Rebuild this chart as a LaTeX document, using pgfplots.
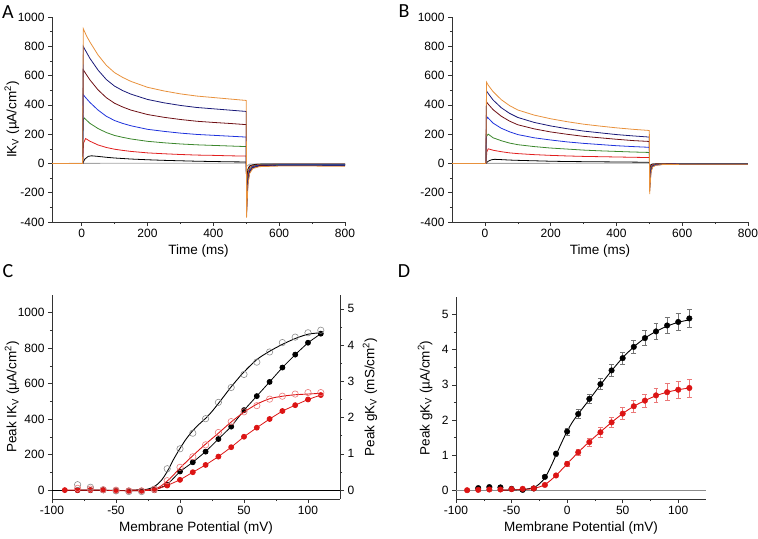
\documentclass[border=0pt]{standalone}
\usepackage{pgfplots}
\pgfplotsset{compat=1.18}
\usepackage{fontspec}
\setmainfont{Liberation Sans}
\newfontfamily\letterfont{Carlito}
\definecolor{cOr}{RGB}{232,145,60}
\definecolor{cNavy}{RGB}{25,25,120}
\definecolor{cBrown}{RGB}{110,15,20}
\definecolor{cBlue}{RGB}{30,50,220}
\definecolor{cGreen}{RGB}{60,135,45}
\definecolor{cRed}{RGB}{225,30,30}
\definecolor{cGray}{RGB}{165,165,165}
\definecolor{dRed}{RGB}{220,20,20}
\definecolor{pinkE}{RGB}{235,120,120}
\pgfplotsset{
 base/.style={
   scale only axis,
   anchor=south west,
   tick align=outside,
   axis line style={-, line width=0.6pt, draw=black!80},
   major tick length=4bp, minor tick length=2.2bp,
   every tick/.style={black!80, line width=0.5pt},
   tick label style={font=\fontsize{12bp}{13bp}\selectfont},
   label style={font=\fontsize{13.5bp}{15bp}\selectfont},
   /pgf/number format/assume math mode=true,
   /pgf/number format/1000 sep={},
 },
 tr/.style={line width=0.8pt, mark=none},
}
\begin{document}
\begin{tikzpicture}
\useasboundingbox (0,0) rectangle (758bp,539bp);
\node[font=\letterfont\fontsize{20bp}{20bp}\selectfont] at (8bp,527bp) {A};
\node[font=\letterfont\fontsize{20bp}{20bp}\selectfont] at (404bp,528bp) {B};
\node[font=\letterfont\fontsize{20bp}{20bp}\selectfont] at (8bp,268bp) {C};
\node[font=\letterfont\fontsize{20bp}{20bp}\selectfont] at (404bp,268bp) {D};

% ---------------- A
\begin{axis}[base, at={(52bp,317bp)}, width=293bp, height=205bp,
 axis x line*=bottom, axis y line*=left,
 xmin=-90, xmax=800, ymin=-400, ymax=1000,
 xtick={0,200,...,800}, ytick={-400,-200,...,1000},
 minor x tick num=1, minor y tick num=1,
 xlabel={Time (ms)}, ylabel={IK\textsubscript{V} (µA/cm\textsuperscript{2})},
 ylabel style={at={(axis description cs:-0.137,0.5)}, anchor=center}]
\addplot[tr, cGray] coordinates {(-90,0)(500,2)(501,-20)(510,-5)(540,-2)(800,-2)};
\addplot[tr, black] coordinates {(-90,0)(3,0)(10,30)(20,48)(30,52)(50,48)(75,42)(100,37)(150,30)(200,25)(250,21)(300,18)(350,15)(400,13)(450,11)(500,10)(501,-120)(505,-40)(510,-18)(520,-9)(540,-5)(600,-4)(700,-4)(800,-4)};
\addplot[tr, cRed] coordinates {(-90,0)(3,0)(6,140)(12,170)(25,152)(50,126)(75,109)(100,97)(125,89)(150,82)(200,72)(250,66)(300,61)(350,57)(400,55)(450,52)(500,50)(501,-200)(505,-65)(510,-28)(520,-14)(540,-8)(600,-6)(700,-6)(800,-6)};
\addplot[tr, cGreen] coordinates {(-90,0)(3,0)(5,300)(8,310)(25,274)(50,238)(75,211)(100,191)(125,178)(150,167)(200,151)(250,141)(300,133)(350,127)(400,123)(450,119)(500,115)(501,-260)(505,-90)(510,-38)(520,-18)(540,-10)(600,-8)(700,-8)(800,-8)};
\addplot[tr, cBlue] coordinates {(-90,0)(3,0)(5,470)(10,455)(25,417)(50,364)(75,322)(100,293)(125,273)(150,257)(200,233)(250,219)(300,207)(350,198)(400,192)(450,186)(500,180)(501,-300)(505,-110)(510,-48)(520,-22)(540,-12)(600,-10)(700,-10)(800,-10)};
\addplot[tr, cBrown] coordinates {(-90,0)(3,0)(5,640)(10,622)(25,571)(50,502)(75,449)(100,411)(125,385)(150,364)(200,334)(250,315)(300,300)(350,288)(400,280)(450,273)(500,265)(501,-320)(505,-125)(510,-55)(520,-27)(540,-15)(600,-12)(700,-12)(800,-13)};
\addplot[tr, cNavy] coordinates {(-90,0)(3,0)(5,800)(10,778)(25,718)(50,637)(75,573)(100,528)(125,497)(150,473)(200,437)(250,414)(300,396)(350,382)(400,373)(450,364)(500,355)(501,-340)(505,-135)(510,-62)(520,-30)(540,-18)(600,-14)(700,-14)(800,-15)};
\addplot[tr, cOr] coordinates {(-90,0)(3,0)(5,920)(10,895)(15,870)(25,830)(50,740)(75,670)(100,620)(125,587)(150,560)(200,520)(250,495)(300,475)(350,460)(400,450)(450,440)(500,430)(501,-370)(505,-150)(510,-70)(520,-35)(540,-22)(600,-18)(700,-18)(800,-20)};
\end{axis}

% ---------------- B
\begin{axis}[base, at={(452bp,317bp)}, width=296bp, height=205bp,
 axis x line*=bottom, axis y line*=left,
 xmin=-100, xmax=800, ymin=-400, ymax=1000,
 xtick={0,200,...,800}, ytick={-400,-200,...,1000},
 minor x tick num=1, minor y tick num=1,
 xlabel={Time (ms)}]
\addplot[tr, cGray] coordinates {(-100,0)(500,1)(501,-10)(510,-2)(800,-1)};
\addplot[tr, black] coordinates {(-100,0)(3,0)(10,15)(20,25)(30,28)(50,26)(75,23)(100,21)(150,18)(200,15)(250,13)(300,12)(350,11)(400,10)(450,9)(500,8)(501,-40)(505,-10)(510,-5)(520,-3)(540,-2)(800,-2)};
\addplot[tr, cRed] coordinates {(-100,0)(3,0)(6,80)(10,100)(25,90)(50,80)(75,72)(100,67)(150,60)(200,55)(250,51)(300,48)(350,46)(400,44)(450,42)(500,40)(501,-70)(505,-18)(510,-8)(520,-4)(540,-3)(600,-2)(700,-2)(800,-2)};
\addplot[tr, cGreen] coordinates {(-100,0)(3,0)(5,185)(10,200)(25,175)(50,155)(75,139)(100,128)(150,115)(200,105)(250,98)(300,91)(350,86)(400,82)(450,78)(500,75)(501,-105)(505,-28)(510,-12)(520,-6)(540,-4)(600,-3)(700,-3)(800,-3)};
\addplot[tr, cBlue] coordinates {(-100,0)(3,0)(5,300)(8,315)(25,275)(50,240)(75,216)(100,197)(150,175)(200,160)(250,147)(300,137)(350,129)(400,121)(450,115)(500,110)(501,-140)(505,-38)(510,-16)(520,-8)(540,-6)(600,-4)(700,-4)(800,-4)};
\addplot[tr, cBrown] coordinates {(-100,0)(3,0)(5,420)(10,405)(25,367)(50,322)(75,289)(100,264)(150,236)(200,215)(250,199)(300,185)(350,175)(400,165)(450,156)(500,150)(501,-165)(505,-46)(510,-20)(520,-10)(540,-7)(600,-5)(700,-5)(800,-5)};
\addplot[tr, cNavy] coordinates {(-100,0)(3,0)(5,495)(10,478)(25,433)(50,380)(75,342)(100,314)(150,280)(200,256)(250,237)(300,221)(350,209)(400,197)(450,188)(500,180)(501,-185)(505,-52)(510,-22)(520,-11)(540,-7)(600,-5)(700,-5)(800,-5)};
\addplot[tr, cOr] coordinates {(-100,0)(3,0)(5,555)(10,535)(25,490)(50,435)(75,395)(100,365)(150,330)(200,305)(250,285)(300,268)(350,255)(400,243)(450,233)(500,225)(501,-210)(505,-60)(510,-25)(520,-12)(540,-8)(600,-6)(700,-5)(800,-5)};
\end{axis}

% ---------------- C (left axis: current)
\begin{axis}[base, at={(52bp,40bp)}, width=288bp, height=204bp,
 axis x line*=bottom, axis y line*=left,
 xmin=-100, xmax=125, ymin=-50, ymax=1100,
 xtick={-100,-50,...,100}, ytick={0,200,...,1000},
 minor x tick num=1, minor y tick num=1,
 xlabel={Membrane Potential (mV)},
 ylabel={Peak IK\textsubscript{V} (µA/cm\textsuperscript{2})},
 ylabel style={at={(axis description cs:-0.139,0.5)}, anchor=center}]
\addplot[black, line width=0.8pt, mark=none] coordinates {(-100,0)(125,0)};
\addplot[black, line width=0.8pt, mark=*, mark size=2.5pt] coordinates {(-80,0)(-70,0)(-60,0)(-50,-2)(-40,-3)(-30,-3)(-20,0)(-10,30)(0,105)(10,157)(20,217)(30,288)(40,358)(50,451)(60,530)(70,610)(80,691)(90,764)(100,831)(110,882)};
\addplot[dRed, line width=0.8pt, mark=*, mark size=2.5pt] coordinates {(-90,0)(-80,0)(-70,0)(-60,0)(-50,-3)(-40,-3)(-30,-3)(-20,0)(-10,26)(0,58)(10,101)(20,142)(30,189)(40,242)(50,301)(60,352)(70,401)(80,446)(90,479)(100,511)(110,536)};
\end{axis}
% ---------------- C (right axis: conductance)
\begin{axis}[base, at={(52bp,40bp)}, width=288bp, height=204bp,
 axis y line*=right, hide x axis,
 xmin=-100, xmax=125, ymin=-0.2446, ymax=5.3816,
 ytick={0,1,...,5}, minor y tick num=1,
 ylabel={Peak gK\textsubscript{V} (mS/cm\textsuperscript{2})},
 ylabel style={at={(axis description cs:1.104,0.5)}, anchor=center}]
\addplot[black!45, only marks, mark=o, mark size=3.2pt, mark options={line width=0.6pt}] coordinates {(-80,0.15)(-70,0.08)(-60,0.01)(-50,-0.02)(-40,-0.04)(-30,-0.04)(-20,0.03)(-10,0.59)(0,1.14)(10,1.57)(20,1.97)(30,2.42)(40,2.83)(50,3.19)(60,3.53)(70,3.81)(80,4.07)(90,4.22)(100,4.34)(110,4.41)};
\addplot[black, line width=0.9pt, smooth, mark=none] coordinates {(-40,0)(-30,0.01)(-25,0.03)(-20,0.10)(-15,0.25)(-10,0.51)(-5,0.85)(0,1.15)(5,1.42)(10,1.64)(15,1.82)(20,1.98)(25,2.17)(30,2.39)(35,2.62)(40,2.85)(45,3.06)(50,3.26)(60,3.60)(70,3.83)(80,4.02)(90,4.18)(100,4.30)(110,4.34)};
\addplot[pinkE, only marks, mark=o, mark size=3.2pt, mark options={line width=0.6pt}] coordinates {(-80,0.05)(-70,0.03)(-60,0.01)(-50,0)(-40,-0.02)(-30,-0.02)(-20,0.02)(-10,0.26)(0,0.63)(10,0.92)(20,1.25)(30,1.59)(40,1.89)(50,2.16)(60,2.33)(70,2.51)(80,2.59)(90,2.65)(100,2.69)(110,2.69)};
\addplot[dRed, line width=0.9pt, smooth, mark=none] coordinates {(-40,0)(-30,0)(-20,0.03)(-15,0.11)(-10,0.25)(-5,0.42)(0,0.61)(10,0.95)(20,1.27)(30,1.57)(40,1.88)(50,2.15)(60,2.37)(70,2.52)(80,2.59)(90,2.63)(100,2.65)(110,2.67)};
\end{axis}

% ---------------- D
\begin{axis}[base, at={(456bp,40bp)}, width=250bp, height=202bp,
 axis x line*=bottom, axis y line*=left,
 xmin=-100, xmax=125, ymin=-0.25, ymax=5.5,
 xtick={-100,-50,...,100}, ytick={0,1,...,5},
 minor x tick num=1, minor y tick num=1,
 xlabel={Membrane Potential (mV)},
 ylabel={Peak gK\textsubscript{V} (µA/cm\textsuperscript{2})},
 ylabel style={at={(axis description cs:-0.124,0.5)}, anchor=center}]
\addplot[black!45, line width=1pt, mark=none] coordinates {(-100,0)(125,0)};
\addplot[black, line width=0.9pt, smooth, mark=none] coordinates {(-60,0)(-40,0.02)(-30,0.08)(-25,0.18)(-20,0.35)(-15,0.65)(-10,1.0)(-5,1.35)(0,1.68)(5,1.95)(10,2.17)(20,2.58)(30,3.0)(40,3.4)(50,3.77)(60,4.08)(70,4.33)(80,4.52)(90,4.67)(100,4.78)(110,4.85)};
\addplot[dRed, line width=0.9pt, smooth, mark=none] coordinates {(-60,0)(-40,0.02)(-30,0.05)(-20,0.16)(-10,0.42)(0,0.75)(10,1.08)(20,1.38)(30,1.66)(40,1.93)(50,2.18)(60,2.39)(70,2.55)(80,2.69)(90,2.79)(100,2.86)(110,2.91)};
\addplot[black, only marks, mark=*, mark size=2.8pt,
 error bars/.cd, y dir=both, y explicit,
 error bar style={black!55, line width=0.6pt},
 error mark options={rotate=90, black!55, mark size=2.5pt, line width=0.6pt}]
 coordinates {(-80,0.06)+-(0,0.03)(-70,0.09)+-(0,0.03)(-60,0.08)+-(0,0.03)(-50,0.04)+-(0,0.03)(-40,0.01)+-(0,0.03)(-30,0.05)+-(0,0.03)(-20,0.38)+-(0,0.05)(-10,1.04)+-(0,0.08)(0,1.67)+-(0,0.1)(10,2.17)+-(0,0.12)(20,2.60)+-(0,0.14)(30,3.02)+-(0,0.16)(40,3.41)+-(0,0.17)(50,3.76)+-(0,0.18)(60,4.08)+-(0,0.19)(70,4.33)+-(0,0.21)(80,4.52)+-(0,0.22)(90,4.69)+-(0,0.23)(100,4.79)+-(0,0.24)(110,4.89)+-(0,0.25)};
\addplot[dRed, only marks, mark=*, mark size=2.8pt,
 error bars/.cd, y dir=both, y explicit,
 error bar style={pinkE, line width=0.6pt},
 error mark options={rotate=90, pinkE, mark size=2.5pt, line width=0.6pt}]
 coordinates {(-90,0)+-(0,0.02)(-80,0.01)+-(0,0.02)(-70,0.02)+-(0,0.02)(-60,0.02)+-(0,0.02)(-50,0.03)+-(0,0.02)(-40,0.04)+-(0,0.02)(-30,0.05)+-(0,0.02)(-20,0.15)+-(0,0.03)(-10,0.42)+-(0,0.05)(0,0.75)+-(0,0.07)(10,1.08)+-(0,0.09)(20,1.37)+-(0,0.11)(30,1.65)+-(0,0.13)(40,1.93)+-(0,0.15)(50,2.18)+-(0,0.17)(60,2.39)+-(0,0.18)(70,2.55)+-(0,0.19)(80,2.70)+-(0,0.2)(90,2.79)+-(0,0.24)(100,2.86)+-(0,0.25)(110,2.91)+-(0,0.26)};
\end{axis}
\end{tikzpicture}
\end{document}
